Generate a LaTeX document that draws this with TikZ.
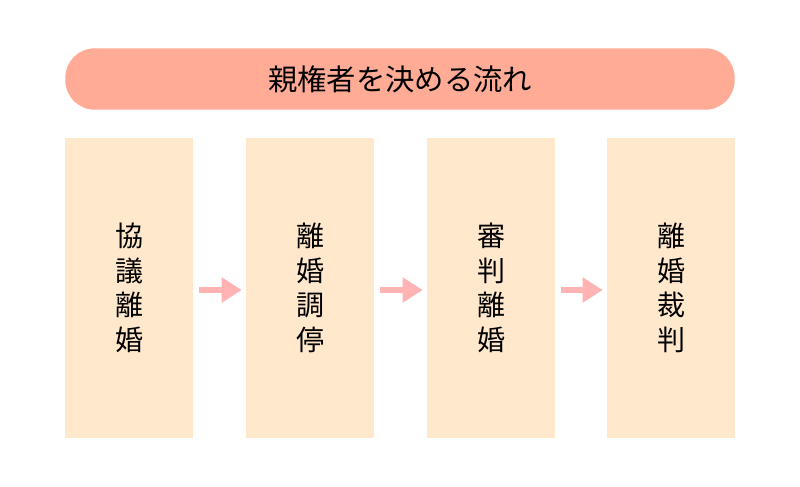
\documentclass[tikz,border=0pt]{standalone}
\usepackage{fontspec}
\newfontfamily\cjk{Noto Sans CJK JP}
\usetikzlibrary{arrows.meta}
\definecolor{titlefill}{HTML}{FFAB96}
\definecolor{stepfill}{HTML}{FFE8CC}
\definecolor{arrowpink}{HTML}{FFB3B3}

\begin{document}
\begin{tikzpicture}[x=0.75pt, y=-0.75pt]
\tikzset{
  stepbox/.style={fill=stepfill, minimum width=96pt, minimum height=225pt, inner sep=0pt,
    align=center, font=\cjk\fontsize{21}{26}\selectfont},
  flow/.style={-{Triangle[length=15pt, width=18pt]}, line width=4.5pt, arrowpink}
}

\useasboundingbox (0,0) rectangle (800,486);

\node[fill=titlefill, rounded corners=22pt, minimum width=502pt, minimum height=46pt,
  font=\cjk\fontsize{22}{26}\selectfont] (title) at (400,79) {親権者を決める流れ};

\node[stepbox] (kyogi) at (129,288) {協\\議\\離\\婚};
\node[stepbox] (chotei) at (310,288) {離\\婚\\調\\停};
\node[stepbox] (shinpan) at (491,288) {審\\判\\離\\婚};
\node[stepbox] (saiban) at (671,288) {離\\婚\\裁\\判};

\draw[flow] ([xshift=4pt]kyogi.east |- 0,290) -- ([xshift=-3pt]chotei.west |- 0,290);
\draw[flow] ([xshift=4pt]chotei.east |- 0,290) -- ([xshift=-3pt]shinpan.west |- 0,290);
\draw[flow] ([xshift=4pt]shinpan.east |- 0,290) -- ([xshift=-3pt]saiban.west |- 0,290);

\end{tikzpicture}
\end{document}
